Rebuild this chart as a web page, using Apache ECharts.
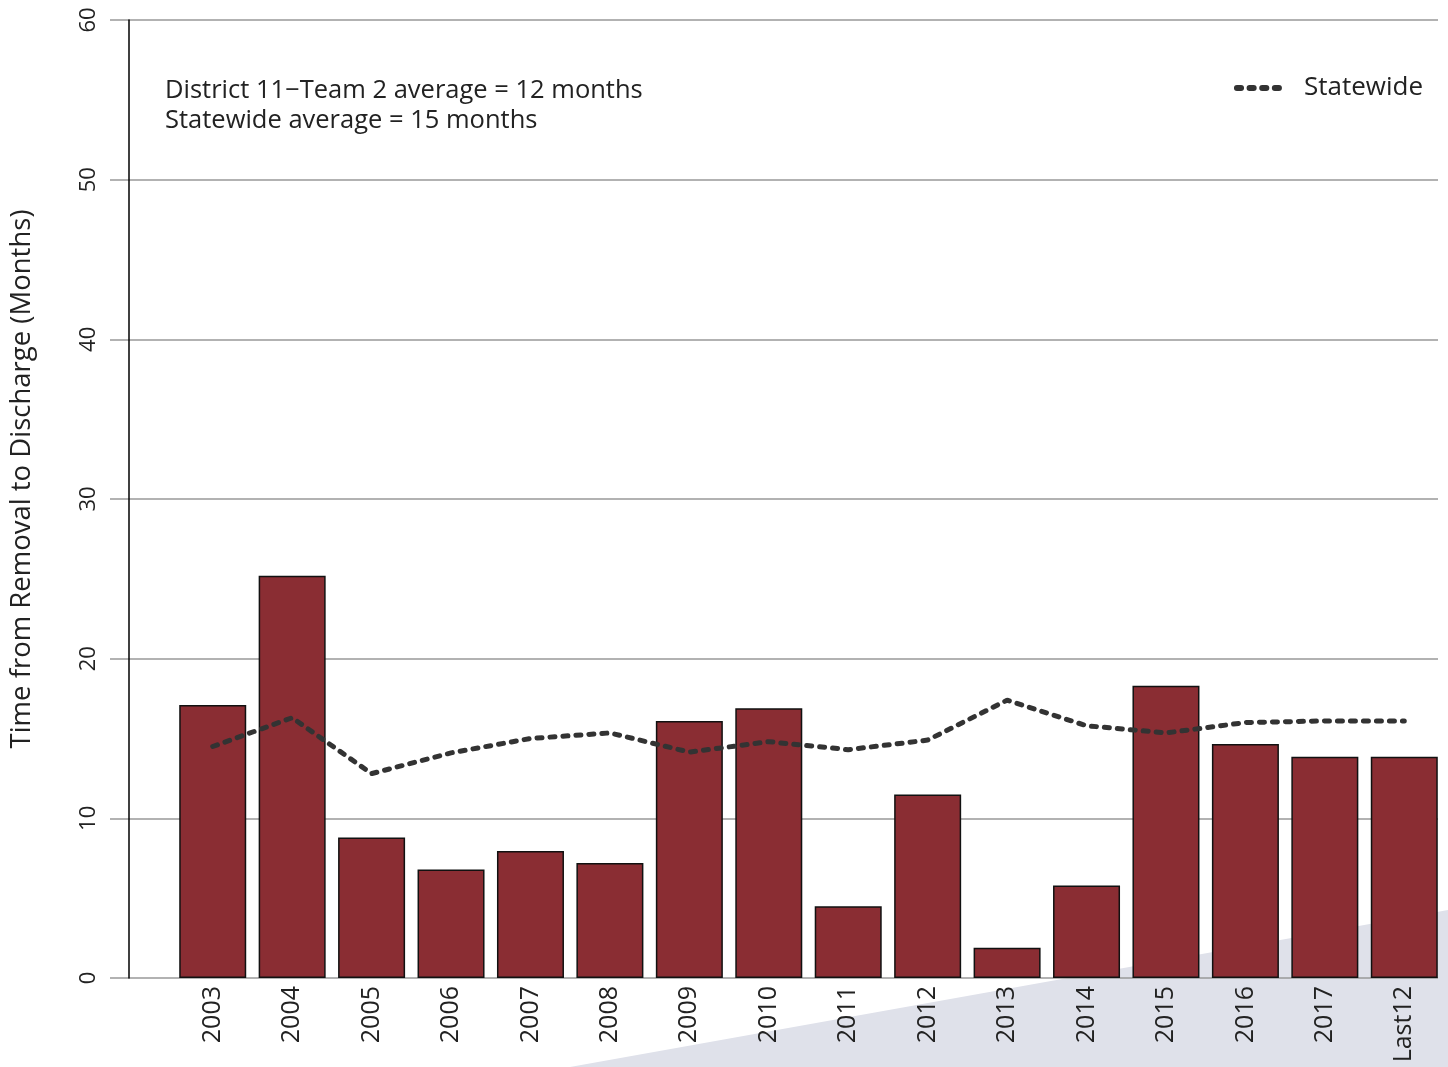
<!DOCTYPE html>
<html>
<head>
<meta charset="utf-8">
<title>Time from Removal to Discharge</title>
<script src="https://cdn.jsdelivr.net/npm/echarts@6/dist/echarts.min.js"></script>
<style>
  html, body { margin: 0; padding: 0; background: #fff; }
  #chart { width: 1448px; height: 1067px; }
</style>
</head>
<body>
<div id="chart"></div>
<script>
// categories and values
var years = ['2003','2004','2005','2006','2007','2008','2009','2010','2011','2012','2013','2014','2015','2016','2017','Last12'];
var teamMonths = [17.1, 25.2, 8.8, 6.8, 7.95, 7.2, 16.1, 16.9, 4.5, 11.5, 1.9, 5.8, 18.3, 14.65, 13.85, 13.85];
var statewideMonths = [14.5, 16.3, 12.8, 14.1, 15.0, 15.35, 14.15, 14.8, 14.3, 14.9, 17.4, 15.8, 15.35, 16.0, 16.1, 16.1];
var yTicks = [0, 10, 20, 30, 40, 50, 60];
var teamAvg = 12, stateAvg = 15;

var font = 'Open Sans';
// four rounded dashes for the legend key
var dotsIcon = 'path://M3,0h4a3,3 0 0 1 0,6h-4a3,3 0 0 1 0,-6z' +
  'M15.5,0h4a3,3 0 0 1 0,6h-4a3,3 0 0 1 0,-6z' +
  'M28,0h4a3,3 0 0 1 0,6h-4a3,3 0 0 1 0,-6z' +
  'M40.5,0h4a3,3 0 0 1 0,6h-4a3,3 0 0 1 0,-6z';

var myChart = echarts.init(document.getElementById('chart'));

var option = {
  animation: false,
  backgroundColor: '#fff',
  textStyle: { fontFamily: font },
  title: {
    left: 160,
    top: 71,
    text: 'District 11\u2212Team 2 average = ' + teamAvg + ' months\nStatewide average = ' + stateAvg + ' months',
    textStyle: { fontFamily: font, fontSize: 25.5, fontWeight: 'normal', color: '#222', lineHeight: 30 }
  },
  legend: {
    right: 20,
    top: 70,
    itemWidth: 48,
    itemHeight: 8,
    textStyle: { fontFamily: font, fontSize: 26, color: '#222', padding: [0, 0, 0, 17] },
    data: [{ name: 'Statewide', icon: dotsIcon }]
  },
  graphic: [
    {
      type: 'polygon',
      z: -10,
      silent: true,
      shape: { points: [[570, 1067], [1448, 910], [1448, 1067]] },
      style: { fill: '#dfe1ea' }
    }
  ],
  grid: [
    // grid for the horizontal guide lines
    { left: 101, right: 10, top: 20, bottom: 89 },
    // grid for bars and line
    { left: 173, right: 4, top: 20, bottom: 89 }
  ],
  xAxis: [
    { gridIndex: 0, type: 'value', show: false, min: 0, max: 1 },
    {
      gridIndex: 1,
      type: 'category',
      data: years,
      axisLine: { show: false },
      axisTick: { show: false },
      axisLabel: {
        rotate: 90,
        margin: 8,
        fontSize: 25,
        color: '#222',
        fontFamily: font
      }
    }
  ],
  yAxis: [
    {
      gridIndex: 0,
      type: 'value',
      min: 0,
      max: 60,
      interval: 10,
      name: 'Time from Removal to Discharge (Months)',
      nameLocation: 'middle',
      nameGap: 74,
      nameTextStyle: { fontFamily: font, fontSize: 27.5, color: '#222', padding: [0, 0, 0, 40] },
      axisLine: { show: false },
      axisTick: { show: false },
      axisLabel: {
        rotate: 90,
        margin: 10,
        fontSize: 22,
        color: '#222',
        fontFamily: font,
        formatter: function (v) { return yTicks.indexOf(v) >= 0 ? String(v) : ''; }
      },
      splitLine: { show: true, lineStyle: { color: '#999', width: 1.5 } }
    },
    {
      gridIndex: 1,
      type: 'value',
      min: 0,
      max: 60,
      interval: 10,
      offset: 44,
      axisLine: { show: true, onZero: false, lineStyle: { color: '#000', width: 1.5 } },
      axisTick: { show: false },
      axisLabel: { show: false },
      splitLine: { show: false }
    }
  ],
  series: [
    {
      name: 'Team',
      type: 'bar',
      xAxisIndex: 1,
      yAxisIndex: 1,
      barWidth: 67,
      data: teamMonths,
      itemStyle: { color: '#8a2d33', borderColor: '#111', borderWidth: 1.5 }
    },
    {
      name: 'Statewide',
      type: 'line',
      xAxisIndex: 1,
      yAxisIndex: 1,
      symbol: 'none',
      data: statewideMonths,
      z: 5,
      lineStyle: { color: '#333', width: 5, type: [5, 8], cap: 'round' },
      itemStyle: { color: '#333' }
    }
  ]
};

myChart.setOption(option);
</script>
</body>
</html>
